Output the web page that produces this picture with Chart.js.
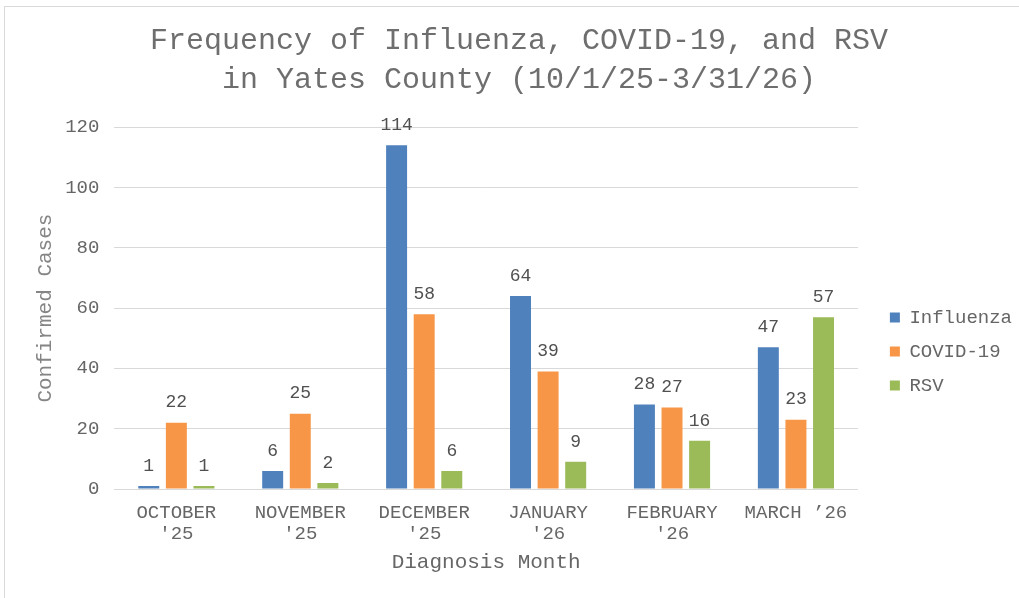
<!DOCTYPE html>
<html>
<head>
<meta charset="utf-8">
<script src="https://cdn.jsdelivr.net/npm/chart.js@4"></script>
<style>
  html, body { margin:0; padding:0; background:#fff; }
  #frame { position:absolute; left:4px; top:6px; width:1040px; height:620px; border:1px solid #d9d9d9; }
  #wrap { position:absolute; left:0; top:0; width:1019px; height:598px; }
</style>
</head>
<body>
<div id="frame"></div>
<div id="wrap"><canvas id="chart"></canvas></div>
<script>
// values
const months = [['OCTOBER', "'25"], ['NOVEMBER', "'25"], ['DECEMBER', "'25"], ['JANUARY', "'26"], ['FEBRUARY', "'26"], ['MARCH \u201926']];
const influenza = [1, 6, 114, 64, 28, 47];
const covid = [22, 25, 58, 39, 27, 23];
const rsv = [1, 2, 6, 9, 16, 57];
const yTicks = [0, 20, 40, 60, 80, 100, 120];

const mono = 'Liberation Mono';
const grey = '#666666';

// value labels above each bar
const barLabels = {
  id: 'barLabels',
  afterDatasetsDraw(chart) {
    const ctx = chart.ctx;
    ctx.save();
    ctx.font = `18px "${mono}"`;
    ctx.fillStyle = '#505050';
    ctx.textAlign = 'center';
    ctx.textBaseline = 'middle';
    chart.data.datasets.forEach((ds, i) => {
      chart.getDatasetMeta(i).data.forEach((bar, j) => {
        ctx.fillText(ds.data[j], bar.x, bar.y - 20);
      });
    });
    ctx.restore();
  }
};

// push the legend a bit right / down like the excel one
const legendNudge = {
  id: 'legendNudge',
  afterLayout(chart) {
    const lg = chart.legend;
    if (!lg) return;
    lg.left += 17; lg.right += 17;
    lg.top += 64; lg.bottom += 64;
  }
};

new Chart(document.getElementById('chart'), {
  type: 'bar',
  data: {
    labels: months,
    datasets: [
      { label: 'Influenza', data: influenza, backgroundColor: '#4f81bd' },
      { label: 'COVID-19', data: covid, backgroundColor: '#f79646' },
      { label: 'RSV', data: rsv, backgroundColor: '#9bbb59' }
    ]
  },
  options: {
    responsive: true,
    maintainAspectRatio: false,
    animation: false,
    categoryPercentage: 0.668,
    barPercentage: 0.76,
    layout: { padding: { left: 33, right: 14, top: 0, bottom: 23 } },
    plugins: {
      title: {
        display: true,
        text: ['Frequency of Influenza, COVID-19, and RSV', 'in Yates County (10/1/25-3/31/26)'],
        color: '#6e6e6e',
        font: { family: mono, size: 30, weight: 'normal', lineHeight: 1.32 },
        padding: { top: 21, bottom: 27 }
      },
      legend: {
        position: 'right',
        labels: {
          color: grey,
          boxWidth: 10,
          boxHeight: 10,
          padding: 15,
          font: { family: mono, size: 19 }
        }
      },
      tooltip: { enabled: false }
    },
    scales: {
      x: {
        grid: { display: false, drawTicks: false },
        border: { display: true, color: '#d9d9d9' },
        ticks: {
          color: grey,
          padding: 14,
          maxRotation: 0,
          autoSkip: false,
          font: { family: mono, size: 19, lineHeight: 1.1 }
        },
        title: {
          display: true,
          text: 'Diagnosis Month',
          color: grey,
          font: { family: mono, size: 21 },
          padding: { top: -9, bottom: 0 }
        }
      },
      y: {
        min: 0,
        max: 120,
        afterBuildTicks: (axis) => { axis.ticks = yTicks.map(v => ({ value: v })); },
        grid: { color: '#d9d9d9', drawTicks: false },
        border: { display: false },
        ticks: {
          color: grey,
          padding: 15,
          font: { family: mono, size: 19 }
        },
        title: {
          display: true,
          text: 'Confirmed Cases',
          color: '#858585',
          font: { family: mono, size: 21 },
          padding: { top: 0, bottom: -8 }
        }
      }
    }
  },
  plugins: [barLabels, legendNudge]
});
</script>
</body>
</html>
